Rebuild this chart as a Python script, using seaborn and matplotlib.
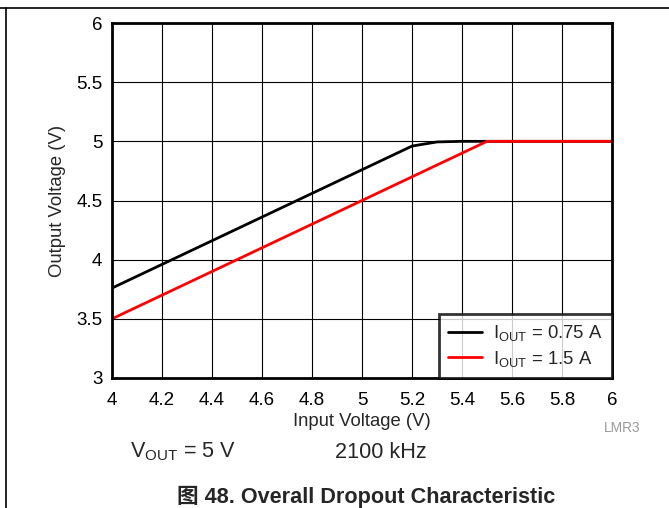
import matplotlib
matplotlib.use('Agg')
import matplotlib.pyplot as plt
import pandas as pd
import seaborn as sns

# curves
vin_075 = [4.0, 4.2, 4.4, 4.6, 4.8, 5.0, 5.2, 5.3, 5.4, 5.6, 5.8, 6.0]
vout_075 = [3.76, 3.96, 4.16, 4.36, 4.56, 4.76, 4.96, 4.995, 5.0, 5.0, 5.0, 5.0]
vin_15 = [4.0, 4.5, 5.0, 5.5, 5.8, 6.0]
vout_15 = [3.5, 4.0, 4.5, 5.0, 5.0, 5.0]
labels = [r'I$_{\mathregular{OUT}}$ = 0.75 A', r'I$_{\mathregular{OUT}}$ = 1.5 A']
xticks = [4, 4.2, 4.4, 4.6, 4.8, 5, 5.2, 5.4, 5.6, 5.8, 6]
yticks = [3, 3.5, 4, 4.5, 5, 5.5, 6]

df = pd.concat([
    pd.DataFrame({'vin': vin_075, 'vout': vout_075, 'cond': labels[0]}),
    pd.DataFrame({'vin': vin_15, 'vout': vout_15, 'cond': labels[1]}),
])

sns.set_style('white')
plt.rcParams['font.family'] = ['Liberation Sans', 'DejaVu Sans']
plt.rcParams['mathtext.fontset'] = 'custom'
plt.rcParams['mathtext.rm'] = 'Liberation Sans'

fig = plt.figure(figsize=(6.69, 5.08), dpi=100)
ax = fig.add_axes([112/669, 1-378/508, 500/669, 355/508])

sns.lineplot(data=df, x='vin', y='vout', hue='cond', palette=['black', '#ff0000'],
             linewidth=2, ax=ax, sort=False, estimator=None)

ax.set_xlim(4, 6)
ax.set_ylim(3, 6)
ax.set_xticks(xticks)
ax.set_xticklabels(['4', '4.2', '4.4', '4.6', '4.8', '5', '5.2', '5.4', '5.6', '5.8', '6'])
ax.set_yticks(yticks)
ax.set_yticklabels(['3', '3.5', '4', '4.5', '5', '5.5', '6'])
ax.grid(True, color='black', linewidth=0.8)
ax.tick_params(labelsize=13.5, length=0, colors='black')
ax.tick_params(axis='x', pad=10)
ax.tick_params(axis='y', pad=7)
for s in ax.spines.values():
    s.set_linewidth(2)
    s.set_color('black')
ax.set_xlabel('Input Voltage (V)', fontsize=13.3, labelpad=3)
ax.set_ylabel('Output Voltage (V)', fontsize=13.3, labelpad=7)

leg = ax.legend(loc='lower right', borderaxespad=0, fontsize=13.3, fancybox=False,
                handlelength=1.85, handletextpad=0.6, borderpad=0.5, labelspacing=0.3)
leg.set_title(None)
leg.get_frame().set_edgecolor('black')
leg.get_frame().set_linewidth(2)

fig.text(604/669, 1-428/508, 'LMR3', fontsize=9.9, color='#999999', va='center')
fig.text(130/669, 1-452/508, r'V$_{\mathregular{OUT}}$ = 5 V', fontsize=15.6, va='center')
fig.text(335/669, 1-452/508, '2100 kHz', fontsize=15.6, va='center')
fig.text(366/669, 1-497/508, '图 48. Overall Dropout Characteristic', fontsize=15.6,
         fontweight='bold', ha='center', va='center',
         family=['Liberation Sans', 'Noto Sans CJK SC'])

# page frame lines
fig.add_artist(plt.Line2D([0, 1], [1-8/508, 1-8/508], color='black', linewidth=1.2))
fig.add_artist(plt.Line2D([6/669, 6/669], [0, 1-8/508], color='black', linewidth=1.2))

fig.savefig('out.png', dpi=100)
